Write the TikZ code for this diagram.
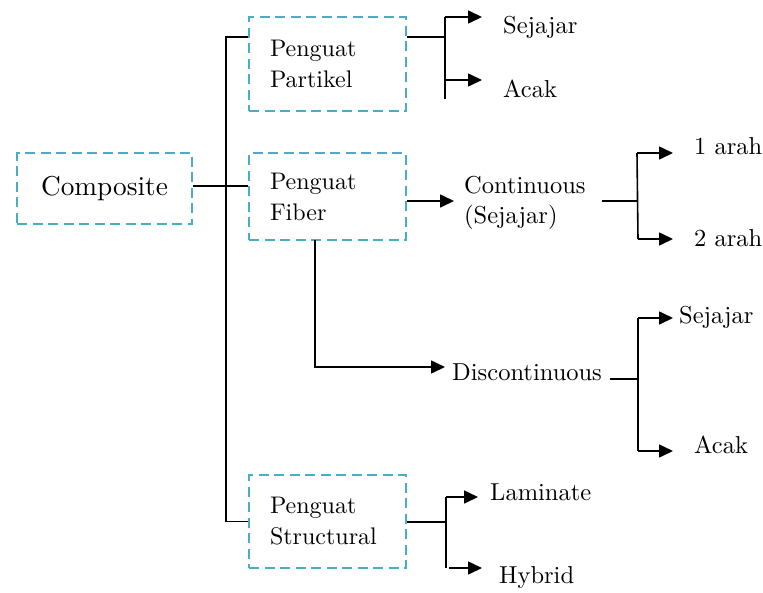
\documentclass[tikz,border=0pt]{standalone}
\usepackage{fontspec}
\setmainfont{lmroman10-regular.otf}
\usetikzlibrary{arrows.meta}
\definecolor{boxblue}{HTML}{4BACC6}
\tikzset{
  dashline/.style={draw=boxblue, line width=2.3pt, dash pattern=on 10pt off 5.5pt},
  dbox/.style={dashline, rectangle, inner ysep=0pt, inner xsep=21pt, align=left,
    text width=115pt, font=\fontsize{24}{31}\selectfont},
  lbl/.style={anchor=base west, inner sep=0pt, font=\fontsize{24.5}{30}\selectfont},
  conn/.style={line width=1.6pt, black},
  arr/.style={conn, -{Triangle[length=14pt,width=13pt]}},
}
\begin{document}
\begin{tikzpicture}[x=1pt,y=-1pt]
\useasboundingbox (0,0) rectangle (763,592);
% boxes
\node[dashline, rectangle, minimum width=175pt, minimum height=71pt, inner sep=0pt,
  font=\fontsize{27.3}{34}\selectfont] (comp) at (104.5,188.5) {Composite};
\node[dbox, minimum height=94pt] (part) at (327.5,64) {Penguat\\Partikel};
\node[dbox, minimum height=87pt] (fib) at (327.5,196.5) {Penguat\\Fiber};
\node[dbox, minimum height=93pt] (str) at (327.5,521.5) {Penguat\\Structural};
% labels
\node[lbl] (sej1) at (503,33) {Sejajar};
\node[lbl] (acak1) at (503,97) {Acak};
\node[lbl, anchor=north west, align=left] (cont) at (464,176) {Continuous\\(Sejajar)};
\node[lbl] (arah1) at (694,154) {1 arah};
\node[lbl] (arah2) at (694,246) {2 arah};
\node[lbl] (disc) at (452,380) {Discontinuous};
\node[lbl] (sej2) at (679,323) {Sejajar};
\node[lbl] (acak2) at (694,453) {Acak};
\node[lbl] (lam) at (490,500) {Laminate};
\node[lbl] (hyb) at (499,583) {Hybrid};
% junction coordinates
\coordinate (cy) at (0,186);
\coordinate (tt) at (226,37);
\coordinate (pj) at (445,37);
\coordinate (pjt) at (445,17);
\coordinate (pjb) at (445,99);
\coordinate (pjm) at (445,80);
\coordinate (t1) at (482,17);
\coordinate (t2) at (482,80);
\coordinate (ct) at (454,201);
\coordinate (cj0) at (602,201);
\coordinate (cj) at (637.5,201);
\coordinate (cjt) at (637,153);
\coordinate (cjb) at (638,239);
\coordinate (t3) at (673,153);
\coordinate (t4) at (673,239);
\coordinate (dv0) at (315,240);
\coordinate (dv) at (315,367);
\coordinate (dt) at (445,367);
\coordinate (dj0) at (610,379);
\coordinate (dj) at (638,379);
\coordinate (djt) at (638,318);
\coordinate (djb) at (638,451);
\coordinate (t5) at (673,318);
\coordinate (t6) at (673,451);
\coordinate (sj) at (446,522);
\coordinate (sjt) at (446,497);
\coordinate (sjb) at (446,568);
\coordinate (sjb2) at (449,568);
\coordinate (t7) at (478,497);
\coordinate (t8) at (482,568);
% trunk
\draw[conn] (comp.east |- cy) -- (fib.west |- cy);
\draw[conn] (part.west |- tt) -- (tt) -- (tt |- str.west) -- (str.west);
% partikel
\draw[conn] (part.east |- tt) -- (pj);
\draw[conn] (pjb) -- (pjt);
\draw[arr] (pjt) -- (t1);
\draw[arr] (pjm) -- (t2);
% fiber continuous
\draw[arr] (fib.east |- ct) -- (ct);
\draw[conn] (cj0) -- (cj);
\draw[conn] (cjt) -- (cjb);
\draw[arr] (cjt) -- (t3);
\draw[arr] (cjb) -- (t4);
% fiber discontinuous
\draw[arr] (dv0) -- (dv) -- (dt);
\draw[conn] (dj0) -- (dj);
\draw[conn] (djt) -- (djb);
\draw[arr] (djt) -- (t5);
\draw[arr] (djb) -- (t6);
% structural
\draw[conn] (str.east |- sj) -- (sj);
\draw[conn] (sjt) -- (sjb);
\draw[arr] (sjt) -- (t7);
\draw[arr] (sjb2) -- (t8);
\end{tikzpicture}
\end{document}
